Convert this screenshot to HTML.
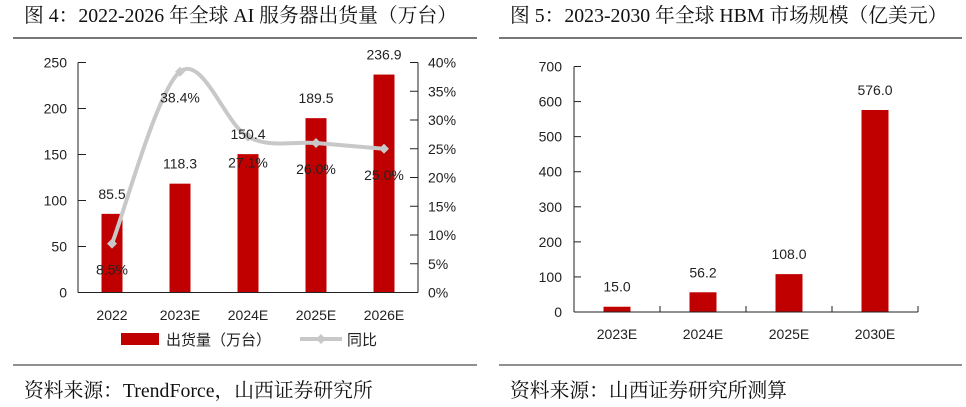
<!DOCTYPE html>
<html><head><meta charset="utf-8">
<style>
body{margin:0;background:#fff;width:966px;height:402px;overflow:hidden;font-family:"Liberation Serif","Noto Serif CJK SC",serif;}
svg text{font-family:"Liberation Sans","Noto Sans CJK SC",sans-serif;}
svg text.ttl{font-family:"Liberation Serif","Noto Serif CJK SC",serif;}
</style></head><body>
<svg id="s" width="966" height="402" xmlns="http://www.w3.org/2000/svg">
<text class="ttl" x="24" y="22" font-size="19.8" fill="#111">图 4：2022-2026 年全球 AI 服务器出货量（万台）</text>
<line x1="13" y1="38" x2="477" y2="38" stroke="#777" stroke-width="2"/>
<text class="ttl" x="510" y="22" font-size="19.8" fill="#111">图 5：2023-2030 年全球 HBM 市场规模（亿美元）</text>
<line x1="499" y1="38" x2="962" y2="38" stroke="#777" stroke-width="2"/>
<line x1="13" y1="365" x2="477" y2="365" stroke="#222" stroke-width="1"/>
<line x1="499" y1="365" x2="962" y2="365" stroke="#222" stroke-width="1"/>
<text class="ttl" x="24" y="397" font-size="19.8" fill="#111">资料来源：TrendForce，山西证券研究所</text>
<text class="ttl" x="510" y="397" font-size="19.8" fill="#111">资料来源：山西证券研究所测算</text>
<g id="L"></g><g id="R"></g>
<g>
<rect x="121" y="333" width="38" height="12" fill="#c00000"/>
<text x="166" y="345" font-size="15" fill="#222">出货量（万台）</text>
<line x1="300" y1="339" x2="342" y2="339" stroke="#c8c8c8" stroke-width="4"/>
<path d="M321 334 L326 339 L321 344 L316 339 Z" fill="#c8c8c8"/>
<text x="347" y="345" font-size="15" fill="#222">同比</text>
</g>
</svg>
<script>
const leftCats=['2022','2023E','2024E','2025E','2026E'];
const leftBars=[85.5,118.3,150.4,189.5,236.9];
const leftYoY=[8.5,38.4,27.1,26.0,25.0];
const leftTicks=[0,50,100,150,200,250];
const rightTicks=[0,5,10,15,20,25,30,35,40];
const hbmCats=['2023E','2024E','2025E','2030E'];
const hbmVals=[15.0,56.2,108.0,576.0];
const hbmTicks=[0,100,200,300,400,500,600,700];
const NS='http://www.w3.org/2000/svg';
function mk(p,t,a,txt){const e=document.createElementNS(NS,t);for(const k in a)e.setAttribute(k,a[k]);if(txt!==undefined)e.textContent=txt;p.appendChild(e);return e;}
const L=document.getElementById('L');
const lx0=78,lx1=418,ly0=292.5,ly1=62.5;
const yL=v=>ly0-(v/250)*(ly0-ly1);
const yR=v=>ly0-(v/40)*(ly0-ly1);
const band=(lx1-lx0)/leftCats.length;
const xc=i=>lx0+band*(i+0.5);
leftTicks.forEach(t=>{
 let e=mk(L,'line',{x1:lx0,x2:lx0+8,y1:yL(t),y2:yL(t),stroke:'#222'});
 
 e=mk(L,'text',{x:67,y:yL(t)+5,'font-size':14,'text-anchor':'end',fill:'#222'},t);
 
});
rightTicks.forEach(t=>{
 let e=mk(L,'line',{x1:lx1-8,x2:lx1,y1:yR(t),y2:yR(t),stroke:'#222'});
 
 e=mk(L,'text',{x:428,y:yR(t)+5,'font-size':14,fill:'#222'},t+'%');
 
});
leftCats.forEach((c,i)=>{
 const e=mk(L,'rect',{x:xc(i)-10.5,y:yL(leftBars[i]),width:21,height:ly0-yL(leftBars[i]),fill:'#c00000'});
 
 const t=mk(L,'text',{x:xc(i),y:320,'font-size':14,'text-anchor':'middle',fill:'#222'},c);
 
});
let e=mk(L,'line',{x1:lx0,x2:lx0,y1:ly1,y2:ly0,stroke:'#222'});

e=mk(L,'line',{x1:lx1,x2:lx1,y1:ly1,y2:ly0,stroke:'#222'});

e=mk(L,'line',{x1:lx0,x2:lx1,y1:ly0,y2:ly0,stroke:'#222'});

const pts=leftYoY.map((v,i)=>[xc(i),yR(v)]);
let d='M'+pts[0][0]+' '+pts[0][1];
for(let i=0;i<pts.length-1;i++){
 const p0=pts[Math.max(0,i-1)],p1=pts[i],p2=pts[i+1],p3=pts[Math.min(pts.length-1,i+2)];
 const k=1/6;
 d+=' C'+(p1[0]+(p2[0]-p0[0])*k)+' '+(p1[1]+(p2[1]-p0[1])*k)+' '+(p2[0]-(p3[0]-p1[0])*k)+' '+(p2[1]-(p3[1]-p1[1])*k)+' '+p2[0]+' '+p2[1];
}
e=mk(L,'path',{d:d,fill:'none',stroke:'#c8c8c8','stroke-width':4});

pts.forEach((p,i)=>{
 const m=mk(L,'path',{d:`M${p[0]} ${p[1]-5} L${p[0]+5} ${p[1]} L${p[0]} ${p[1]+5} L${p[0]-5} ${p[1]} Z`,fill:'#c8c8c8'});
 
});
leftCats.forEach((c,i)=>{
 let t=mk(L,'text',{x:xc(i),y:yL(leftBars[i])-15,'font-size':14,'text-anchor':'middle',fill:'#222'},leftBars[i].toFixed(1));
 
 t=mk(L,'text',{x:xc(i),y:yR(leftYoY[i])+31,'font-size':14,'text-anchor':'middle',fill:'#222'},leftYoY[i].toFixed(1)+'%');
 
});
const R=document.getElementById('R');
const rx0=574,rx1=918,ry0=312,ry1=66.5;
const yH=v=>ry0-(v/700)*(ry0-ry1);
const rb=(rx1-rx0)/hbmCats.length;
const xh=i=>rx0+rb*(i+0.5);
hbmTicks.forEach(t=>{
 let e=mk(R,'line',{x1:rx0,x2:rx0+7,y1:yH(t),y2:yH(t),stroke:'#222'});
 
 e=mk(R,'text',{x:562,y:yH(t)+5,'font-size':14,'text-anchor':'end',fill:'#222'},t);
 
});
hbmCats.forEach((c,i)=>{
 let e=mk(R,'rect',{x:xh(i)-13.5,y:yH(hbmVals[i]),width:27,height:ry0-yH(hbmVals[i]),fill:'#c00000'});
 
 e=mk(R,'text',{x:xh(i),y:yH(hbmVals[i])-15,'font-size':14,'text-anchor':'middle',fill:'#222'},hbmVals[i].toFixed(1));
 
 e=mk(R,'text',{x:xh(i),y:339,'font-size':14,'text-anchor':'middle',fill:'#222'},c);
 
 e=mk(R,'line',{x1:rx0+rb*(i+1),x2:rx0+rb*(i+1),y1:ry0,y2:ry0-6,stroke:'#222'});
 
});
e=mk(R,'line',{x1:rx0,x2:rx0,y1:ry1,y2:ry0,stroke:'#222'});

e=mk(R,'line',{x1:rx0,x2:rx1,y1:ry0,y2:ry0,stroke:'#222'});

</script>
</body></html>
